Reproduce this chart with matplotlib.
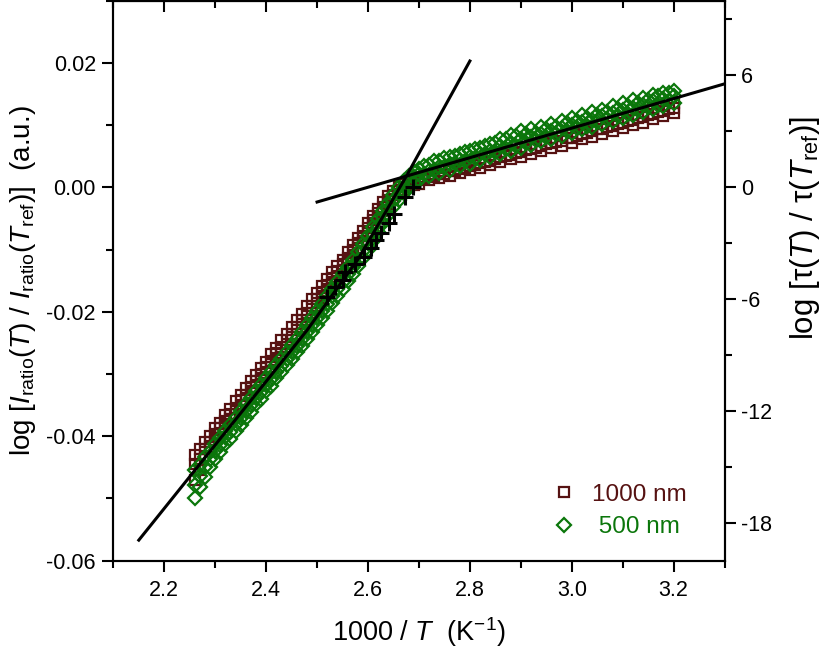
import numpy as np
import matplotlib
matplotlib.use("Agg")
import matplotlib.pyplot as plt
from matplotlib.ticker import MultipleLocator, FormatStrFormatter

plt.rcParams['font.family'] = ['Liberation Sans', 'DejaVu Sans']
plt.rcParams['mathtext.fontset'] = 'custom'
plt.rcParams['mathtext.rm'] = 'Liberation Sans'
plt.rcParams['mathtext.it'] = 'Liberation Sans:italic'
plt.rcParams['axes.unicode_minus'] = False

# 1000/T values (K^-1)
inv_t = [2.26, 2.27, 2.28, 2.29, 2.30, 2.31, 2.32, 2.33, 2.34, 2.35,
         2.36, 2.37, 2.38, 2.39, 2.40, 2.41, 2.42, 2.43, 2.44, 2.45,
         2.46, 2.47, 2.48, 2.49, 2.50, 2.51, 2.52, 2.53, 2.54, 2.55,
         2.56, 2.57, 2.58, 2.59, 2.60, 2.61, 2.62, 2.63, 2.64, 2.65,
         2.66, 2.67, 2.68, 2.69, 2.70, 2.72, 2.74, 2.76, 2.78, 2.80,
         2.82, 2.84, 2.86, 2.88, 2.90, 2.92, 2.94, 2.96, 2.98, 3.00,
         3.02, 3.04, 3.06, 3.08, 3.10, 3.12, 3.14, 3.16, 3.18, 3.20]
# extra points in the flat part
inv_t_hi = [2.71, 2.73, 2.75, 2.77, 2.79, 2.81, 2.83, 2.85, 2.87, 2.89,
            2.91, 2.93, 2.95, 2.97, 2.99, 3.01, 3.03, 3.05, 3.07, 3.09,
            3.11, 3.13, 3.15, 3.17, 3.19]

# 1000 nm ratio: upper, lower and middle part of the point cloud
r1000_a = [-0.0430, -0.0421, -0.0409, -0.0400, -0.0387, -0.0378, -0.0366, -0.0357, -0.0344, -0.0334,
           -0.0322, -0.0312, -0.0301, -0.0290, -0.0280, -0.0268, -0.0258, -0.0246, -0.0236, -0.0224,
           -0.0213, -0.0203, -0.0191, -0.0180, -0.0170, -0.0158, -0.0147, -0.0136, -0.0126, -0.0116,
           -0.0104, -0.0093, -0.0082, -0.0070, -0.0058, -0.0046, -0.0035, -0.0024, -0.0014, -0.0006,
           0.0001, 0.0006, 0.0010, 0.0013, 0.0016, 0.0022, 0.0027, 0.0032, 0.0036, 0.0041,
           0.0046, 0.0050, 0.0056, 0.0060, 0.0064, 0.0070, 0.0074, 0.0079, 0.0083, 0.0089,
           0.0093, 0.0098, 0.0102, 0.0108, 0.0112, 0.0117, 0.0121, 0.0127, 0.0131, 0.0136]
r1000_b = [-0.0470, -0.0455, -0.0432, -0.0418, -0.0406, -0.0396, -0.0385, -0.0373, -0.0364, -0.0352,
           -0.0342, -0.0331, -0.0321, -0.0309, -0.0299, -0.0289, -0.0278, -0.0268, -0.0256, -0.0246,
           -0.0235, -0.0225, -0.0213, -0.0202, -0.0190, -0.0178, -0.0167, -0.0155, -0.0144, -0.0133,
           -0.0121, -0.0110, -0.0098, -0.0086, -0.0073, -0.0061, -0.0049, -0.0038, -0.0027, -0.0018,
           -0.0010, -0.0004, 0.0000, 0.0003, 0.0006, 0.0011, 0.0015, 0.0019, 0.0023, 0.0028,
           0.0031, 0.0036, 0.0040, 0.0045, 0.0048, 0.0054, 0.0058, 0.0063, 0.0066, 0.0072,
           0.0077, 0.0081, 0.0085, 0.0091, 0.0095, 0.0100, 0.0104, 0.0110, 0.0114, 0.0120]
r1000_c = [-0.0445, -0.0436, -0.0420, -0.0409, -0.0397, -0.0386, -0.0376, -0.0364, -0.0355, -0.0342,
           -0.0333, -0.0321, -0.0311, -0.0300, -0.0289, -0.0279, -0.0267, -0.0257, -0.0246, -0.0235,
           -0.0224, -0.0214, -0.0202, -0.0191, -0.0180, -0.0168, -0.0157, -0.0146, -0.0135, -0.0124,
           -0.0113, -0.0101, -0.0090, -0.0078, -0.0066, -0.0053, -0.0042, -0.0031, -0.0021, -0.0012,
           -0.0005, 0.0001, 0.0005, 0.0008, 0.0011, 0.0016, 0.0021, 0.0026, 0.0030, 0.0034,
           0.0039, 0.0043, 0.0048, 0.0052, 0.0056, 0.0062, 0.0066, 0.0071, 0.0075, 0.0080,
           0.0085, 0.0090, 0.0094, 0.0099, 0.0104, 0.0108, 0.0113, 0.0118, 0.0123, 0.0128]
r1000_d = [0.0013, 0.0018, 0.0022, 0.0027, 0.0031, 0.0036, 0.0040, 0.0046, 0.0050, 0.0055,
           0.0060, 0.0064, 0.0069, 0.0073, 0.0079, 0.0083, 0.0088, 0.0093, 0.0097, 0.0102,
           0.0107, 0.0112, 0.0116, 0.0121, 0.0126]

# 500 nm ratio: upper, lower and middle part of the point cloud
r500_a = [-0.0455, -0.0446, -0.0434, -0.0425, -0.0412, -0.0403, -0.0391, -0.0382, -0.0370, -0.0360,
          -0.0349, -0.0339, -0.0328, -0.0318, -0.0307, -0.0297, -0.0286, -0.0276, -0.0265, -0.0254,
          -0.0244, -0.0233, -0.0222, -0.0210, -0.0199, -0.0187, -0.0175, -0.0163, -0.0152, -0.0140,
          -0.0128, -0.0116, -0.0104, -0.0091, -0.0078, -0.0064, -0.0051, -0.0038, -0.0025, -0.0012,
          0.0000, 0.0010, 0.0018, 0.0024, 0.0029, 0.0036, 0.0042, 0.0048, 0.0053, 0.0058,
          0.0064, 0.0070, 0.0078, 0.0084, 0.0090, 0.0093, 0.0097, 0.0102, 0.0106, 0.0111,
          0.0116, 0.0121, 0.0125, 0.0131, 0.0135, 0.0140, 0.0144, 0.0149, 0.0152, 0.0155]
r500_b = [-0.0500, -0.0482, -0.0465, -0.0450, -0.0436, -0.0425, -0.0413, -0.0404, -0.0392, -0.0382,
          -0.0370, -0.0361, -0.0349, -0.0340, -0.0328, -0.0319, -0.0307, -0.0297, -0.0286, -0.0276,
          -0.0265, -0.0255, -0.0244, -0.0233, -0.0221, -0.0210, -0.0198, -0.0186, -0.0175, -0.0163,
          -0.0151, -0.0139, -0.0127, -0.0114, -0.0100, -0.0086, -0.0072, -0.0058, -0.0045, -0.0032,
          -0.0020, -0.0009, 0.0000, 0.0007, 0.0012, 0.0018, 0.0023, 0.0028, 0.0034, 0.0038,
          0.0044, 0.0048, 0.0054, 0.0058, 0.0064, 0.0068, 0.0074, 0.0078, 0.0083, 0.0088,
          0.0093, 0.0097, 0.0102, 0.0107, 0.0112, 0.0116, 0.0121, 0.0126, 0.0131, 0.0136]
r500_c = [-0.0478, -0.0464, -0.0450, -0.0437, -0.0424, -0.0414, -0.0402, -0.0393, -0.0381, -0.0371,
          -0.0360, -0.0350, -0.0339, -0.0329, -0.0318, -0.0308, -0.0297, -0.0287, -0.0276, -0.0265,
          -0.0255, -0.0244, -0.0233, -0.0222, -0.0210, -0.0199, -0.0187, -0.0175, -0.0164, -0.0152,
          -0.0140, -0.0128, -0.0116, -0.0103, -0.0089, -0.0075, -0.0062, -0.0048, -0.0035, -0.0022,
          -0.0010, 0.0001, 0.0009, 0.0016, 0.0021, 0.0027, 0.0033, 0.0038, 0.0044, 0.0048,
          0.0054, 0.0059, 0.0066, 0.0071, 0.0077, 0.0081, 0.0086, 0.0090, 0.0095, 0.0100,
          0.0105, 0.0109, 0.0114, 0.0119, 0.0124, 0.0128, 0.0133, 0.0138, 0.0142, 0.0146]
r500_d = [0.0034, 0.0042, 0.0047, 0.0050, 0.0056, 0.0061, 0.0066, 0.0071, 0.0077, 0.0082,
          0.0085, 0.0088, 0.0094, 0.0097, 0.0103, 0.0106, 0.0112, 0.0116, 0.0121, 0.0126,
          0.0131, 0.0136, 0.0141, 0.0146, 0.0152]
r500_e = [0.0022, 0.0028, 0.0033, 0.0039, 0.0043, 0.0047, 0.0053, 0.0057, 0.0062, 0.0067,
          0.0072, 0.0076, 0.0081, 0.0086, 0.0090, 0.0095, 0.0099, 0.0105, 0.0110, 0.0114,
          0.0118, 0.0124, 0.0129, 0.0133, 0.0138]

# lifetime data (right axis)
tau_x = [2.520, 2.535, 2.551, 2.555, 2.575, 2.592, 2.605, 2.616, 2.626, 2.642, 2.652, 2.673, 2.688]
tau_y = [-5.87, -5.33, -4.97, -4.53, -4.13, -3.73, -3.27, -2.80, -2.43, -1.90, -1.43, -0.53, 0.0]

# fit lines (left axis)
fit_hi_x = [2.15, 2.30, 2.40, 2.48, 2.53, 2.58, 2.63, 2.676, 2.74, 2.80]
fit_hi_y = [-0.0567, -0.0414, -0.0312, -0.0230, -0.0173, -0.0116, -0.0046, 0.0019, 0.0114, 0.0203]
fit_lo_x = [2.50, 3.30]
fit_lo_y = [-0.00236, 0.01663]

c1000 = '#561212'
c500 = '#0b760b'

fig = plt.figure(figsize=(8.26, 6.54), dpi=100)
ax = fig.add_axes([0.1372, 0.1427, 0.740, 0.8563])

x_1000 = inv_t * 3 + inv_t_hi
y_1000 = r1000_a + r1000_b + r1000_c + r1000_d
x_500 = inv_t * 3 + inv_t_hi * 2
y_500 = r500_a + r500_b + r500_c + r500_d + r500_e

ax.plot(x_1000, y_1000, linestyle='none', marker='s', ms=7.8, mfc='none',
        mec=c1000, mew=1.6, color=c1000, label='1000 nm')
ax.plot(x_500, y_500, linestyle='none', marker='D', ms=7.0, mfc='none',
        mec=c500, mew=1.6, color=c500, label=' 500 nm')
ax.plot(fit_hi_x, fit_hi_y, color='black', lw=2.2, zorder=5)
ax.plot(fit_lo_x, fit_lo_y, color='black', lw=2.2, zorder=5)

ax.set_xlim(2.1, 3.3)
ax.set_ylim(-0.06, 0.03)
ax.xaxis.set_major_locator(MultipleLocator(0.2))
ax.xaxis.set_minor_locator(MultipleLocator(0.1))
ax.xaxis.set_major_formatter(FormatStrFormatter('%.1f'))
ax.yaxis.set_major_locator(MultipleLocator(0.02))
ax.yaxis.set_minor_locator(MultipleLocator(0.01))
ax.yaxis.set_major_formatter(FormatStrFormatter('%.2f'))

for s in ax.spines.values():
    s.set_linewidth(1.5)
ax.tick_params(axis='both', which='both', width=1.5, labelsize=15.5, direction='out')
ax.tick_params(axis='both', which='major', length=8)
ax.tick_params(axis='both', which='minor', length=5)
ax.tick_params(axis='x', pad=6)
ax.tick_params(axis='y', pad=4.5, right=False)

# top axis: inward ticks, no labels
top = ax.secondary_xaxis('top')
top.xaxis.set_major_locator(MultipleLocator(0.2))
top.xaxis.set_minor_locator(MultipleLocator(0.1))
top.tick_params(axis='x', which='both', direction='in', width=1.5, labeltop=False)
top.tick_params(axis='x', which='major', length=8)
top.tick_params(axis='x', which='minor', length=5)
top.spines['top'].set_linewidth(1.5)

ax.set_xlabel(r'1000 / $\mathit{T}$  (K$^{-1}$)', fontsize=19.5)
ax.xaxis.set_label_coords(0.5, -0.128)
ax.xaxis.label.set_va('center')
ax.set_ylabel(r'log [$\mathit{I}_{\mathrm{ratio}}$($\mathit{T}$) / '
              r'$\mathit{I}_{\mathrm{ratio}}$($\mathit{T}_{\mathrm{ref}}$)]  (a.u.)', fontsize=20)
ax.yaxis.set_label_coords(-0.148, 0.5)
ax.yaxis.label.set_va('center')

# right axis: lifetime
ax2 = ax.twinx()
ax2.plot(tau_x, tau_y, linestyle='none', marker='+', ms=11.5, mew=2.2, color='black')
ax2.set_ylim(-20, 10)
ax2.yaxis.set_major_locator(MultipleLocator(6))
ax2.yaxis.set_minor_locator(MultipleLocator(3))
ax2.yaxis.set_major_formatter(FormatStrFormatter('%d'))
ax2.tick_params(axis='y', which='both', width=1.5, labelsize=15.5, direction='out', pad=4)
ax2.tick_params(axis='y', which='major', length=8)
ax2.tick_params(axis='y', which='minor', length=5)
for s in ax2.spines.values():
    s.set_linewidth(1.5)
ax2.set_ylabel(r'log [τ($\mathit{T}$) / τ($\mathit{T}_{\mathrm{ref}}$)]', fontsize=22.5, rotation=90)
ax2.yaxis.set_label_coords(1.132, 0.594)
ax2.yaxis.label.set_va('center')

leg = ax.legend(loc='upper left', bbox_to_anchor=(0.718, 0.137), frameon=False,
                fontsize=17.5, handlelength=0.95, handletextpad=0.7, labelspacing=0.42,
                borderpad=0, borderaxespad=0, labelcolor='markeredgecolor')

fig.savefig('out.png', dpi=100)
